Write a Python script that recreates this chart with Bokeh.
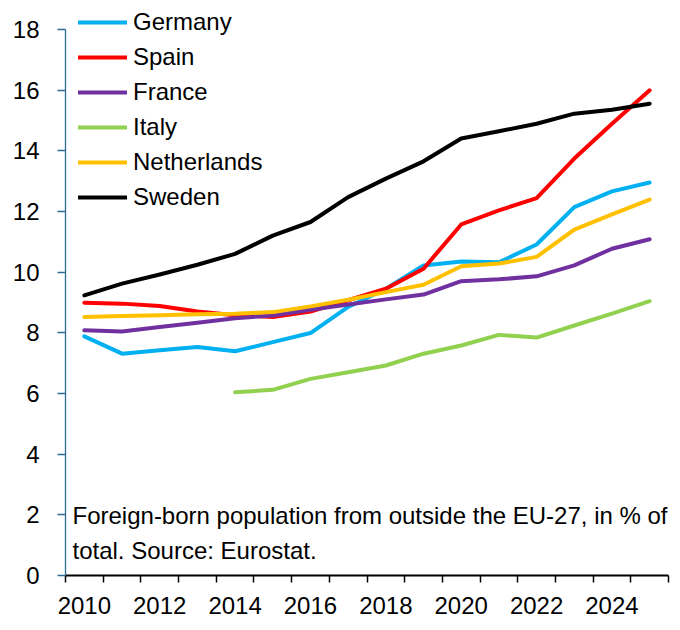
from bokeh.plotting import figure
from bokeh.models import FixedTicker, Legend, LegendItem, Label, Range1d
from bokeh.embed import file_html
from bokeh.resources import INLINE

years = list(range(2010, 2026))
italy_years = list(range(2014, 2026))
germany = [7.88, 7.31, 7.42, 7.53, 7.39, 7.69, 7.99, 8.85, 9.45, 10.22, 10.35, 10.32, 10.91, 12.14, 12.66, 12.95]
spain = [8.99, 8.96, 8.88, 8.70, 8.58, 8.52, 8.70, 9.07, 9.45, 10.11, 11.57, 12.03, 12.44, 13.74, 14.89, 15.99]
france = [8.08, 8.04, 8.19, 8.33, 8.48, 8.57, 8.76, 8.93, 9.10, 9.26, 9.70, 9.76, 9.86, 10.22, 10.77, 11.08]
italy = [6.04, 6.12, 6.48, 6.70, 6.92, 7.31, 7.58, 7.93, 7.84, 8.24, 8.63, 9.04]
netherlands = [8.52, 8.55, 8.58, 8.61, 8.63, 8.68, 8.87, 9.09, 9.34, 9.58, 10.19, 10.28, 10.50, 11.40, 11.90, 12.39]
sweden = [9.23, 9.62, 9.92, 10.24, 10.60, 11.20, 11.65, 12.47, 13.08, 13.65, 14.40, 14.64, 14.89, 15.22, 15.35, 15.55]

series = [
    ("Germany", years, germany, "#00B0F0"),
    ("Spain", years, spain, "#FF0000"),
    ("France", years, france, "#7030A0"),
    ("Italy", italy_years, italy, "#92D050"),
    ("Netherlands", years, netherlands, "#FFC000"),
    ("Sweden", years, sweden, "#000000"),
]
x_label_years = [2010, 2012, 2014, 2016, 2018, 2020, 2022, 2024]
y_ticks = [0, 2, 4, 6, 8, 10, 12, 14, 16, 18]
note_line1 = "Foreign-born population from outside the EU-27, in % of"
note_line2 = "total. Source: Eurostat."

FONT = "Liberation Sans"
FS = "24px"

p = figure(width=676, height=622, output_backend="svg", toolbar_location=None,
           x_range=Range1d(2009.5, 2025.5), y_range=Range1d(0, 18.95),
           min_border_left=65, min_border_right=8, min_border_top=0, min_border_bottom=47)
p.outline_line_color = None
p.xgrid.visible = False
p.ygrid.visible = False
p.background_fill_color = "white"

items = []
for name, xs, ys, col in series:
    r = p.line(xs, ys, line_color=col, line_width=4, line_cap="round", line_join="round")
    items.append(LegendItem(label=name, renderers=[r]))

xa = p.xaxis[0]
xa.ticker = FixedTicker(ticks=x_label_years, minor_ticks=[y - 0.5 for y in years] + [2025.5])
xa.major_tick_out = 0
xa.major_tick_in = 0
xa.minor_tick_out = 7
xa.minor_tick_in = 0
xa.minor_tick_line_color = "black"
xa.minor_tick_line_width = 1.5
xa.axis_line_color = "black"
xa.axis_line_width = 2
xa.major_label_text_font = FONT
xa.major_label_text_font_size = FS
xa.major_label_text_color = "black"
xa.major_label_standoff = 14

ya = p.yaxis[0]
ya.ticker = FixedTicker(ticks=y_ticks)
ya.bounds = (0, 18)
ya.major_tick_out = 8
ya.major_tick_in = 0
ya.minor_tick_out = 0
ya.minor_tick_in = 0
ya.axis_line_color = "#2C6B94"
ya.major_tick_line_color = "#2C6B94"
ya.axis_line_width = 1.3
ya.major_tick_line_width = 1.3
ya.major_label_text_font = FONT
ya.major_label_text_font_size = FS
ya.major_label_text_color = "black"
ya.major_label_standoff = 18

legend = Legend(items=items, location=(13, 364), orientation="vertical",
                label_text_font=FONT, label_text_font_size=FS, label_text_color="black",
                glyph_width=49, glyph_height=26, label_height=26, spacing=7,
                label_standoff=6, padding=0, margin=0,
                border_line_color=None, background_fill_alpha=0)
p.add_layout(legend, "center")

for txt, yy in [(note_line1, 60), (note_line2, 25)]:
    p.add_layout(Label(x=7, y=yy, x_units="screen", y_units="screen", text=txt,
                       text_font=FONT, text_font_size=FS, text_color="black",
                       text_baseline="middle", text_align="left"))

open("out.html", "w").write(file_html(p, INLINE))
